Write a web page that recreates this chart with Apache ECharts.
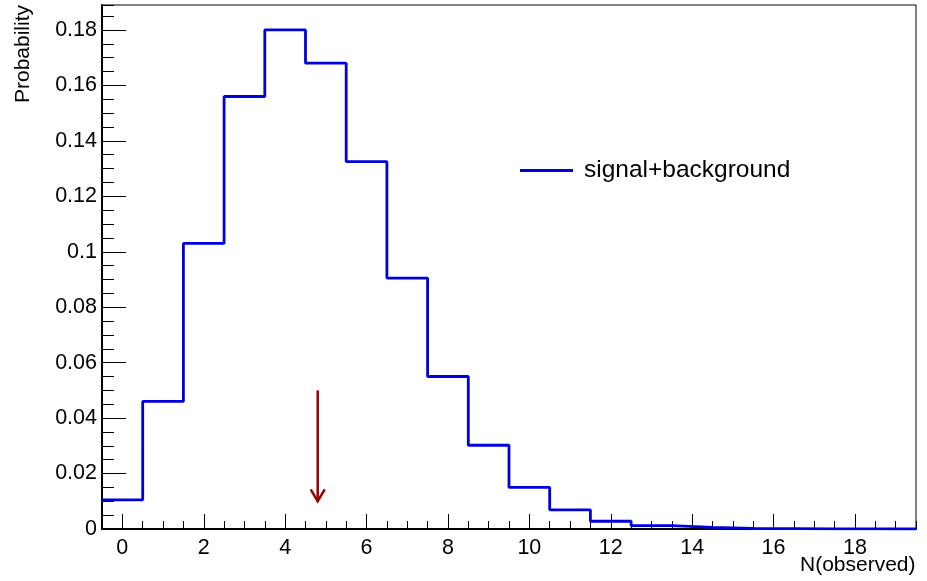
<!DOCTYPE html>
<html>
<head>
<meta charset="utf-8">
<script src="https://cdn.jsdelivr.net/npm/echarts@6/dist/echarts.min.js"></script>
<style>
  html, body { margin: 0; padding: 0; background: #fff; }
  #chart { width: 927px; height: 581px; }
</style>
</head>
<body>
<div id="chart"></div>
<script>
// N(observed) bins, one per integer
const nObserved = [0, 1, 2, 3, 4, 5, 6, 7, 8, 9, 10, 11, 12, 13, 14, 15, 16, 17, 18, 19]
// probability per bin
const probability = [
  0.0105, 0.046, 0.103, 0.156, 0.180, 0.168, 0.1325, 0.0905, 0.055, 0.0302,
  0.015, 0.0069, 0.0028, 0.0012, 0.0006, 0.0002, 0.0001, 0.00003, 0.00001, 0.000003
]
const xTickLabels = [0, 2, 4, 6, 8, 10, 12, 14, 16, 18]
// observed value marker: x, arrow top, arrow tip
const arrowData = [[4.8, 0.05, 0.01]]

const X_MIN = -0.5
const X_MAX = 19.5
const Y_MAX = 0.189
const FONT = 'Liberation Sans, Arial, Helvetica, sans-serif'
const HIST_COLOR = '#0000dd'
const ARROW_COLOR = '#990000'

// bin edges for a step outline: each bin drawn from n-0.5 to n+0.5
const stepData = nObserved.map((n, i) => [n - 0.5, probability[i]])
stepData.push([nObserved[nObserved.length - 1] + 0.5, probability[probability.length - 1]])

const chart = echarts.init(document.getElementById('chart'))

const option = {
  animation: false,
  backgroundColor: '#fff',
  textStyle: { fontFamily: FONT },
  grid: {
    left: 102,
    right: 11,
    top: 5,
    bottom: 52,
    outerBoundsMode: 'none',
    containLabel: false,
    show: true,
    borderColor: '#000',
    borderWidth: 1,
  },
  legend: {
    left: 520,
    top: 158,
    padding: 0,
    itemWidth: 53,
    itemHeight: 3,
    icon: 'rect',
    data: ['signal+background'],
    textStyle: {
      fontFamily: FONT,
      fontSize: 24.5,
      color: '#000',
      padding: [0, 0, 0, 6],
    },
  },
  xAxis: [
    {
      type: 'value',
      min: X_MIN,
      max: X_MAX,
      position: 'bottom',
      name: 'N(observed)',
      nameLocation: 'end',
      nameGap: -116,
      nameMoveOverlap: false,
      nameTextStyle: {
        fontFamily: FONT,
        fontSize: 21,
        color: '#000',
        verticalAlign: 'top',
        padding: [26, 0, 0, 0],
      },
      axisLine: { show: true, onZero: false, lineStyle: { color: '#000', width: 2 } },
      axisTick: {
        show: true,
        inside: true,
        length: 15,
        customValues: xTickLabels,
        lineStyle: { color: '#000', width: 1 },
      },
      axisLabel: {
        customValues: xTickLabels,
        margin: 8,
        fontFamily: FONT,
        fontSize: 21.5,
        color: '#000',
      },
      splitLine: { show: false },
    },
    {
      // minor ticks every 0.5
      type: 'value',
      min: X_MIN,
      max: X_MAX,
      interval: 0.5,
      position: 'bottom',
      axisLine: { show: false, onZero: false },
      axisTick: { show: true, inside: true, length: 8, lineStyle: { color: '#000', width: 1 } },
      axisLabel: { show: false },
      splitLine: { show: false },
    },
  ],
  yAxis: [
    {
      type: 'value',
      min: 0,
      max: Y_MAX,
      interval: 0.02,
      position: 'left',
      name: 'Probability',
      nameLocation: 'end',
      nameRotate: 90,
      nameGap: 0,
      nameMoveOverlap: false,
      nameTextStyle: {
        fontFamily: FONT,
        fontSize: 21,
        color: '#000',
        align: 'right',
        verticalAlign: 'bottom',
        padding: [0, 0, 68, 0],
      },
      axisLine: { show: true, onZero: false, lineStyle: { color: '#000', width: 2 } },
      axisTick: { show: true, inside: true, length: 24, lineStyle: { color: '#000', width: 1 } },
      axisLabel: {
        margin: 5,
        showMaxLabel: false,
        fontFamily: FONT,
        fontSize: 21.5,
        color: '#000',
        formatter: (v) => String(+v.toFixed(3)),
      },
      splitLine: { show: false },
    },
    {
      // minor ticks every 0.005
      type: 'value',
      min: 0,
      max: Y_MAX,
      interval: 0.005,
      position: 'left',
      axisLine: { show: false, onZero: false },
      axisTick: { show: true, inside: true, length: 12, lineStyle: { color: '#000', width: 1 } },
      axisLabel: { show: false },
      splitLine: { show: false },
    },
  ],
  series: [
    {
      name: 'signal+background',
      type: 'line',
      xAxisIndex: 0,
      yAxisIndex: 0,
      step: 'end',
      symbol: 'none',
      data: stepData,
      lineStyle: { color: HIST_COLOR, width: 2.8 },
      itemStyle: { color: HIST_COLOR },
      z: 3,
    },
    {
      name: 'arrow',
      type: 'custom',
      xAxisIndex: 0,
      yAxisIndex: 0,
      data: arrowData,
      encode: { x: 0, y: [1, 2] },
      renderItem: (params, api) => {
        const top = api.coord([api.value(0), api.value(1)])
        const tip = api.coord([api.value(0), api.value(2)])
        return {
          type: 'group',
          children: [
            {
              type: 'line',
              shape: { x1: top[0], y1: top[1], x2: tip[0], y2: tip[1] },
              style: { stroke: ARROW_COLOR, lineWidth: 2.5 },
            },
            {
              type: 'polyline',
              shape: { points: [[tip[0] - 7, tip[1] - 12], [tip[0], tip[1]], [tip[0] + 7, tip[1] - 12]] },
              style: { stroke: ARROW_COLOR, lineWidth: 2.5, fill: null },
            },
          ],
        }
      },
      z: 4,
    },
  ],
}

chart.setOption(option)
</script>
</body>
</html>
